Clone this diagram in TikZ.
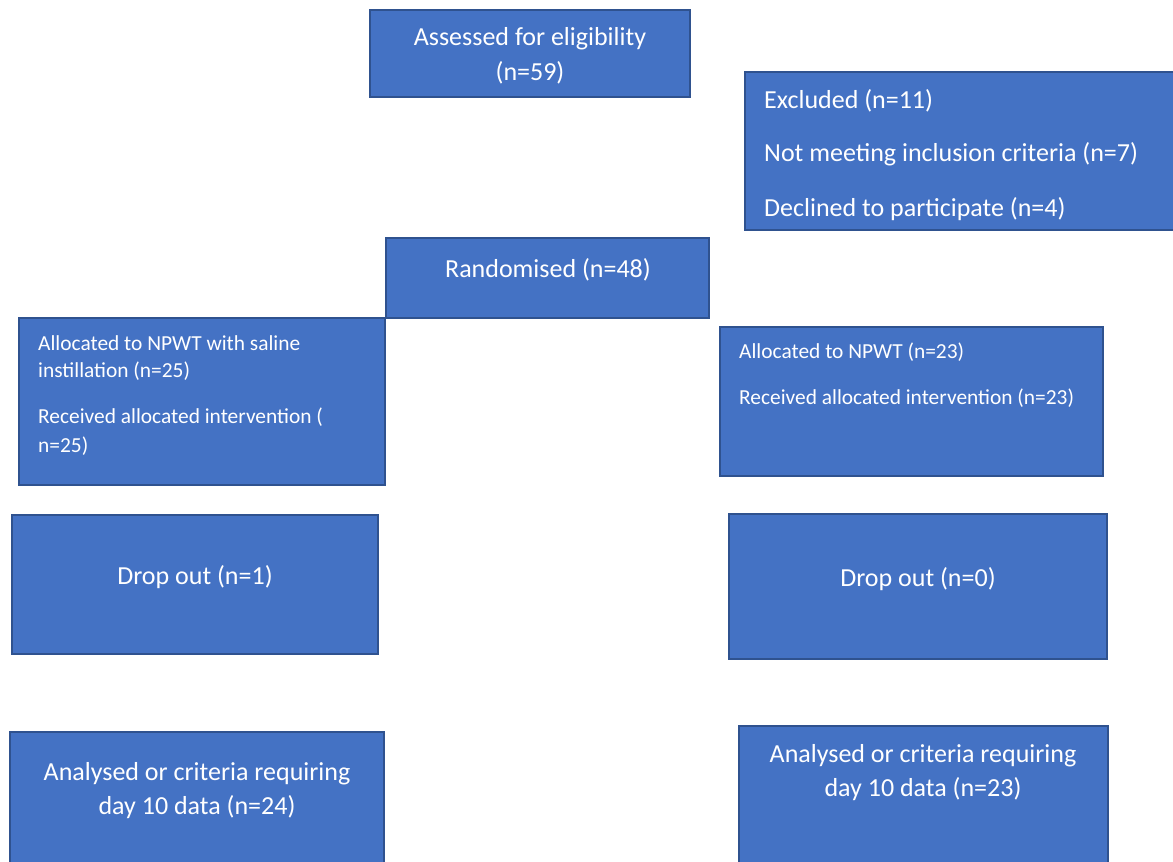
\documentclass[tikz,border=0pt]{standalone}
\usepackage{fontspec}
\setmainfont{Carlito}
\definecolor{boxfill}{HTML}{4472C4}
\definecolor{boxline}{HTML}{2F528F}
\tikzset{
  box/.style={draw=boxline, fill=boxfill, line width=1.6pt},
  big/.style={text=white, inner sep=0pt, font=\fontsize{26}{31}\selectfont},
  small/.style={text=white, inner sep=0pt, font=\fontsize{21.4}{26}\selectfont},
}
\begin{document}
\begin{tikzpicture}[x=1pt,y=-1pt]
\useasboundingbox (0,0) rectangle (1173,862);
\clip (0,0) rectangle (1173,862);
% boxes
\draw[box] (370,10) rectangle (690,97);
\draw[box] (745,72) rectangle (1176,230);
\draw[box] (386,238) rectangle (709,318);
\draw[box] (19,318) rectangle (385,485);
\draw[box] (720,327) rectangle (1103,476);
\draw[box] (12,515) rectangle (378,654);
\draw[box] (729,514) rectangle (1107,659);
\draw[box] (10,732) rectangle (384,866);
\draw[box] (739,726) rectangle (1108,866);
% texts
\begin{scope}[yshift=-1.5pt]
\node[big] (a1) at (530,37) {Assessed for eligibility};
\node[big] (a2) at (530,71) {(n=59)};
\node[big, anchor=west] (e1) at (764,99) {Excluded (n=11)};
\node[big, anchor=west] (e2) at (764,153) {Not meeting inclusion criteria (n=7)};
\node[big, anchor=west] (e3) at (764,208) {Declined to participate (n=4)};
\node[big] (r1) at (548,268) {Randomised (n=48)};
\node[small, anchor=west] (l1) at (38,342) {Allocated to NPWT with saline};
\node[small, anchor=west] (l2) at (38,370) {instillation (n=25)};
\node[small, anchor=west] (l3) at (38,416) {Received allocated intervention (};
\node[small, anchor=west] (l4) at (38,445) {n=25)};
\node[small, anchor=west] (p1) at (739,351) {Allocated to NPWT (n=23)};
\node[small, anchor=west] (p2) at (739,397) {Received allocated intervention (n=23)};
\node[big] (d1) at (195,576) {Drop out (n=1)};
\node[big] (d2) at (918,578) {Drop out (n=0)};
\node[big] (s1) at (197,772) {Analysed or criteria requiring};
\node[big] (s2) at (197,806) {day 10 data (n=24)};
\node[big] (t1) at (923,754) {Analysed or criteria requiring};
\node[big] (t2) at (923,788) {day 10 data (n=23)};
\end{scope}
\end{tikzpicture}
\end{document}
